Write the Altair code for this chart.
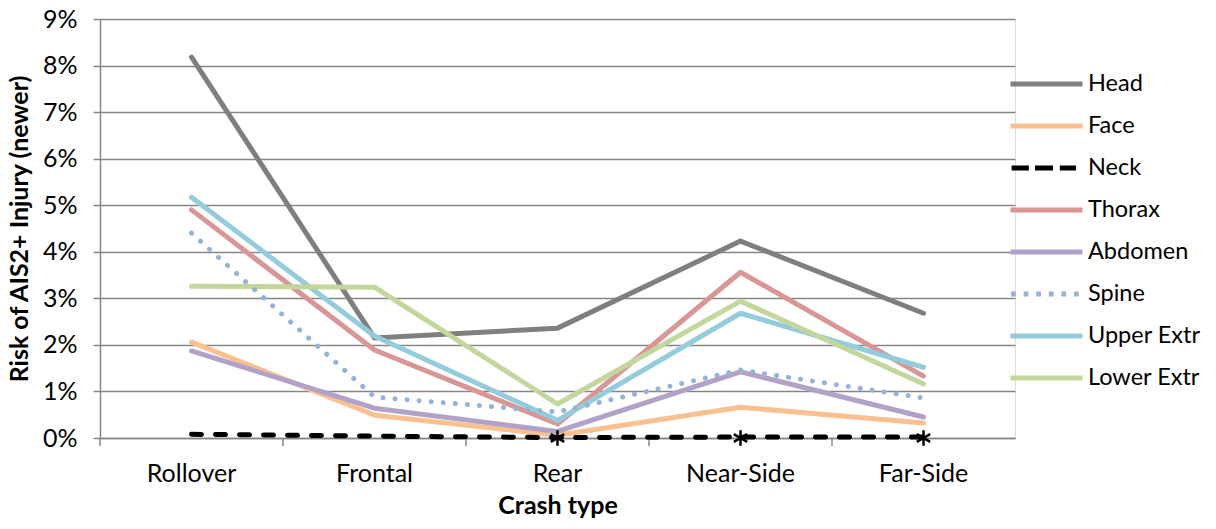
import altair as alt
import pandas as pd

crash_types = ["Rollover", "Frontal", "Rear", "Near-Side", "Far-Side"]
series = ["Head", "Face", "Neck", "Thorax", "Abdomen", "Spine", "Upper Extr", "Lower Extr"]

head = [8.18, 2.15, 2.36, 4.23, 2.68]
face = [2.06, 0.49, 0.06, 0.66, 0.32]
neck = [0.08, 0.04, 0.01, 0.02, 0.02]
thorax = [4.90, 1.89, 0.30, 3.56, 1.33]
abdomen = [1.87, 0.64, 0.14, 1.42, 0.45]
spine = [4.40, 0.88, 0.56, 1.46, 0.86]
upper_extr = [5.17, 2.19, 0.38, 2.68, 1.52]
lower_extr = [3.26, 3.24, 0.73, 2.94, 1.16]

star_types = ["Rear", "Near-Side", "Far-Side"]
star_values = [0.0, 0.0, 0.0]

colors = ["#7F7F7F", "#FAC090", "#000000", "#D99694", "#B3A2C7", "#95B3D7", "#93CDDD", "#C3D69B"]
NECK_DASH = [10, 14]
SPINE_DASH = [0.1, 12]

# legend symbol glyphs (unit-square SVG paths)
SOLID = "M-1,0H1"
DASHED = "M-0.97,0H-0.49M-0.32,0H0.18M0.37,0H0.82"
DOTTED = "".join("M%.3f,0h0.13" % (cx - 0.065) for cx in [-0.92, -0.57, -0.22, 0.13, 0.48, 0.83])
legend_shapes = [SOLID, SOLID, DASHED, SOLID, SOLID, DOTTED, SOLID, SOLID]

all_vals = [head, face, neck, thorax, abdomen, spine, upper_extr, lower_extr]
rows = []
for s, vals in zip(series, all_vals):
    for c, v in zip(crash_types, vals):
        rows.append({"series": s, "crash": c, "value": v / 100.0})
df = pd.DataFrame(rows)
stars = pd.DataFrame({"crash": star_types, "value": star_values})
ticks_df = pd.DataFrame({"crash": crash_types})

FONT = "Lato"
FS = 25
W, H = 915, 419

xscale = alt.Scale(type="band", domain=crash_types, paddingInner=0, paddingOuter=0)
yscale = alt.Scale(domain=[0, 0.09])
color_scale = alt.Scale(domain=series, range=colors)

legend = alt.Legend(
    title=None, orient="none", legendX=908, legendY=44,
    symbolSize=5184, symbolStrokeWidth=5, symbolOpacity=1,
    symbolFillColor="transparent",
    labelFontSize=23.5, labelFont=FONT, labelColor="#000000",
    labelOffset=3, rowPadding=0, clipHeight=42, padding=0,
)

x_enc = alt.X("crash:N", sort=crash_types, scale=xscale,
              axis=alt.Axis(title="Crash type", ticks=False, labelPadding=23,
                            labelAlign="center", labelBaseline="top",
                            labelFontSize=FS, labelFont=FONT, labelColor="#000000", labelAngle=0,
                            titleFontSize=FS, titleFont=FONT, titleFontWeight="bold",
                            titleColor="#000000", titlePadding=7,
                            domainColor="#868686", domainWidth=1.5))
y_enc = alt.Y("value:Q", scale=yscale,
              axis=alt.Axis(title="Risk of AIS2+ Injury (newer)", format=".0%",
                            values=[i / 100 for i in range(10)],
                            grid=True, gridColor="#868686", gridWidth=1.5,
                            domainColor="#868686", domainWidth=1.5,
                            tickColor="#868686", tickWidth=1.5, tickSize=7,
                            labelPadding=16, labelFontSize=FS, labelFont=FONT,
                            labelColor="#000000",
                            titleFontSize=FS, titleFont=FONT, titleFontWeight="bold",
                            titleColor="#000000", titlePadding=10))
c_enc = alt.Color("series:N", sort=series, scale=color_scale, legend=legend)
order_calc = "indexof(" + str(crash_types) + ", datum.crash)"


def line_layer(filter_expr, **mark_kw):
    return alt.Chart(df).mark_line(strokeWidth=5, strokeCap="round", strokeJoin="round",
                                   **mark_kw).encode(
        x=x_enc, y=y_enc, color=c_enc, order=alt.Order("crash_idx:Q"),
    ).transform_filter(filter_expr).transform_calculate(crash_idx=order_calc)


solid_lines = line_layer("datum.series != 'Neck' && datum.series != 'Spine'")
spine_line = line_layer("datum.series == 'Spine'", strokeDash=SPINE_DASH)
neck_line = line_layer("datum.series == 'Neck'", strokeDash=NECK_DASH)

# legend carrier: draws nothing, only supplies the line-style glyphs to the legend
legend_layer = alt.Chart(df).mark_point(filled=False, strokeWidth=5, opacity=1).encode(
    x=alt.X("crash:N", sort=crash_types, scale=xscale),
    y=alt.Y("value:Q", scale=yscale),
    color=c_enc,
    shape=alt.Shape("series:N", sort=series,
                    scale=alt.Scale(domain=series, range=legend_shapes), legend=legend),
).transform_filter("false")

xticks = alt.Chart(ticks_df).mark_rule(color="#868686", strokeWidth=1.5).encode(
    x=alt.X("crash:N", sort=crash_types, scale=xscale, bandPosition=0),
    y=alt.value(H),
    y2=alt.value(H + 8),
)

star_marks = alt.Chart(stars).mark_point(
    shape="M0,-1L0,1M-0.866,-0.5L0.866,0.5M-0.866,0.5L0.866,-0.5",
    filled=False, color="#000000", strokeWidth=2.5, size=240, opacity=1,
).encode(
    x=alt.X("crash:N", sort=crash_types, scale=xscale),
    y=alt.Y("value:Q", scale=yscale),
)

chart = alt.layer(xticks, solid_lines, spine_line, neck_line, star_marks, legend_layer).properties(
    width=W, height=H,
    autosize=alt.AutoSizeParams(type="none"),
    padding={"left": 92, "top": 11, "right": 190, "bottom": 83},
).configure_view(stroke=None).configure(background="white")

chart.save("out.html", embed_options={"renderer": "svg", "actions": False})
